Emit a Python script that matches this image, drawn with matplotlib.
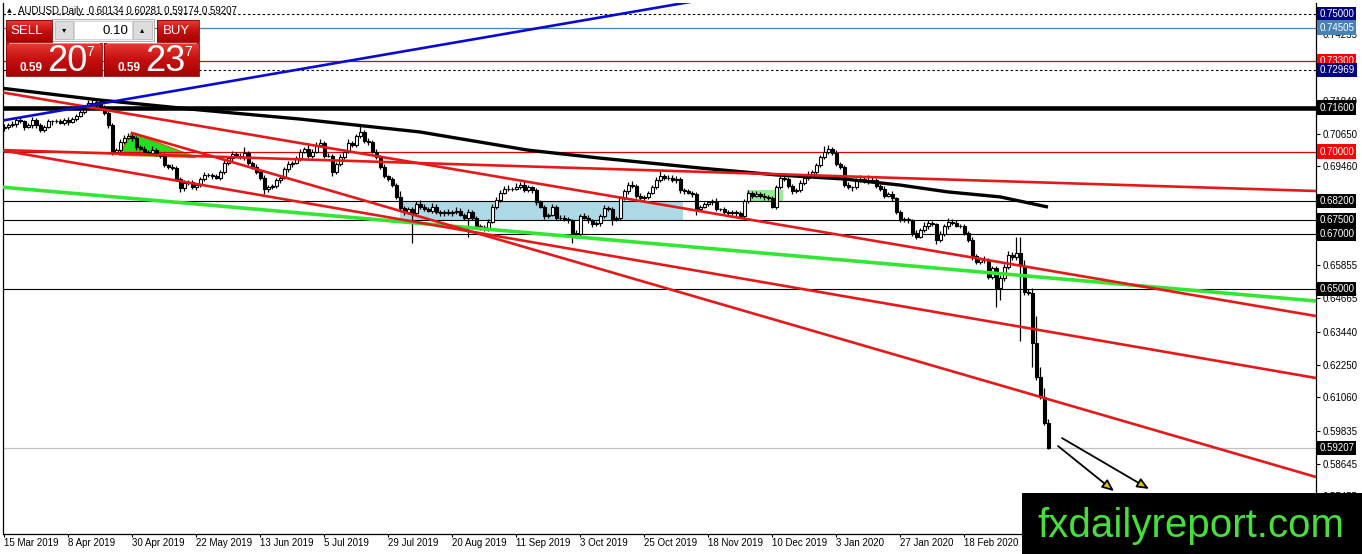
import matplotlib
matplotlib.use("Agg")
import matplotlib.pyplot as plt
from matplotlib.patches import Rectangle, Polygon
from matplotlib.colors import LinearSegmentedColormap
import numpy as np

plt.rcParams['font.family'] = ['Liberation Sans', 'DejaVu Sans']

# AUDUSD daily closes in pips (x 1e-4), 15 Mar 2019 .. 18 Mar 2020
closes = [
    7090, 7095, 7100, 7115, 7110, 7090, 7095, 7115, 7095, 7080,
    7090, 7110, 7110, 7112, 7105, 7115, 7108, 7118, 7130, 7145,
    7160, 7175, 7170, 7180, 7160, 7140, 7095, 7000, 7005, 7035,
    7050, 7055, 7050, 7015, 7010, 7000, 6995, 7005, 6990, 6985,
    6950, 6945, 6940, 6900, 6867, 6885, 6890, 6870, 6880, 6900,
    6915, 6915, 6910, 6905, 6925, 6960, 6975, 6990, 6985, 6980,
    6995, 6960, 6945, 6925, 6905, 6862, 6870, 6875, 6895, 6905,
    6935, 6955, 6960, 6975, 7000, 7010, 6985, 7000, 7025, 7030,
    6985, 6985, 6925, 6955, 6980, 7000, 7030, 7025, 7055, 7070,
    7040, 7035, 7000, 6980, 6945, 6910, 6900, 6880, 6835, 6795,
    6780, 6790, 6775, 6810, 6800, 6790, 6785, 6800, 6780, 6775,
    6780, 6775, 6780, 6785, 6770, 6760, 6780, 6760, 6730, 6725,
    6720, 6745, 6800, 6825, 6850, 6865, 6865, 6865, 6870, 6880,
    6860, 6870, 6860, 6815, 6800, 6765, 6770, 6800, 6760, 6760,
    6755, 6750, 6705, 6700, 6765, 6760, 6750, 6735, 6740, 6765,
    6795, 6790, 6755, 6760, 6830, 6855, 6880, 6875, 6840, 6830,
    6835, 6850, 6870, 6895, 6910, 6905, 6905, 6895, 6900, 6860,
    6855, 6850, 6845, 6790, 6800, 6810, 6815, 6820, 6790, 6790,
    6780, 6775, 6780, 6775, 6765, 6820, 6850, 6840, 6845, 6840,
    6835, 6830, 6800, 6870, 6905, 6900, 6875, 6855, 6860, 6885,
    6905, 6920, 6925, 6950, 6980, 7000, 7010, 6995, 6955, 6945,
    6880, 6870, 6870, 6895, 6900, 6895, 6890, 6895, 6875, 6865,
    6840, 6845, 6830, 6780, 6750, 6755, 6750, 6705, 6690, 6715,
    6730, 6740, 6735, 6680, 6700, 6730, 6745, 6740, 6730, 6730,
    6705, 6680, 6620, 6600, 6610, 6605, 6545, 6575, 6505, 6540,
    6580, 6625, 6615, 6630, 6585, 6490, 6485, 6303, 6180, 6109,
    6013, 5921,
]
first_open = 7085

# upper / lower shadows in pips
wick_up = [
    10, 8, 12, 8, 10, 6, 8, 10, 6, 8,
    8, 10, 6, 8, 6, 8, 10, 6, 8, 10,
    8, 12, 20, 15, 8, 10, 6, 8, 6, 10,
    10, 12, 8, 6, 8, 10, 6, 15, 8, 6,
    8, 6, 8, 6, 8, 10, 6, 8, 6, 8,
    10, 8, 6, 8, 6, 10, 8, 12, 10, 8,
    20, 8, 6, 8, 6, 8, 10, 6, 8, 10,
    8, 10, 6, 8, 10, 8, 20, 8, 10, 15,
    8, 10, 6, 8, 10, 8, 15, 10, 8, 25,
    10, 8, 6, 8, 6, 8, 6, 8, 6, 20,
    8, 10, 8, 10, 15, 8, 10, 12, 8, 6,
    8, 10, 6, 12, 8, 6, 10, 8, 6, 8,
    6, 8, 10, 8, 10, 8, 12, 6, 15, 10,
    12, 8, 6, 8, 10, 6, 8, 10, 6, 8,
    10, 8, 6, 8, 6, 10, 8, 6, 8, 6,
    12, 8, 10, 6, 8, 10, 8, 12, 6, 8,
    6, 8, 10, 12, 20, 8, 10, 8, 10, 8,
    8, 10, 6, 8, 6, 8, 6, 8, 10, 6,
    8, 6, 8, 6, 8, 6, 10, 8, 10, 6,
    8, 6, 10, 8, 12, 15, 8, 6, 8, 10,
    8, 10, 8, 10, 8, 20, 15, 8, 10, 8,
    6, 8, 6, 10, 15, 8, 20, 15, 8, 6,
    8, 6, 10, 6, 8, 6, 8, 6, 10, 8,
    15, 10, 8, 6, 10, 8, 12, 8, 10, 6,
    8, 6, 10, 8, 8, 10, 6, 10, 8, 10,
    10, 15, 8, 60, 60, 20, 10, 20, 98, 36,
    30, 15,
]
wick_dn = [
    10, 8, 6, 10, 8, 12, 6, 8, 10, 8,
    10, 6, 15, 8, 6, 8, 10, 6, 8, 6,
    8, 10, 6, 8, 10, 8, 10, 12, 8, 6,
    8, 6, 10, 8, 6, 10, 8, 6, 8, 10,
    8, 10, 6, 8, 15, 10, 8, 6, 10, 8,
    6, 8, 10, 6, 8, 6, 8, 10, 6, 8,
    10, 8, 10, 6, 8, 15, 10, 8, 6, 8,
    6, 8, 10, 6, 8, 6, 10, 8, 6, 8,
    10, 6, 15, 8, 6, 8, 6, 10, 8, 6,
    8, 10, 6, 8, 10, 8, 6, 10, 8, 10,
    12, 8, 107, 8, 10, 8, 6, 10, 8, 10,
    8, 6, 10, 8, 6, 10, 70, 8, 10, 12,
    10, 8, 6, 10, 8, 6, 8, 10, 6, 8,
    6, 8, 10, 8, 6, 10, 8, 6, 10, 8,
    8, 10, 38, 15, 8, 6, 10, 8, 6, 10,
    8, 6, 22, 8, 10, 6, 8, 6, 10, 8,
    10, 8, 6, 8, 6, 10, 8, 6, 8, 10,
    8, 6, 10, 20, 8, 6, 8, 10, 6, 8,
    6, 8, 6, 10, 8, 6, 8, 10, 6, 8,
    10, 8, 6, 10, 8, 6, 8, 10, 6, 8,
    6, 8, 10, 6, 8, 6, 10, 8, 6, 8,
    10, 8, 15, 8, 6, 10, 8, 6, 8, 10,
    8, 6, 10, 8, 6, 8, 10, 12, 8, 6,
    8, 10, 6, 15, 8, 6, 10, 8, 6, 8,
    10, 8, 15, 10, 8, 12, 10, 10, 69, 45,
    10, 8, 10, 8, 275, 10, 8, 85, 10, 9,
    8, 4,
]

# moving average (bar index, price)
ma_bars = [-1, 24, 49, 74, 104, 131, 149, 174, 193, 210, 224, 236, 249, 261]
ma_vals = [0.7231, 0.7187, 0.7151, 0.7118, 0.7071, 0.7005, 0.6976, 0.6940,
           0.6915, 0.6900, 0.6878, 0.6853, 0.6835, 0.6798]

date_labels = ['15 Mar 2019', '8 Apr 2019', '30 Apr 2019', '22 May 2019', '13 Jun 2019',
               '5 Jul 2019', '29 Jul 2019', '20 Aug 2019', '11 Sep 2019', '3 Oct 2019',
               '25 Oct 2019', '18 Nov 2019', '10 Dec 2019', '3 Jan 2020', '27 Jan 2020',
               '18 Feb 2020']
price_ticks = [0.74255, 0.71840, 0.70650, 0.69460, 0.65855, 0.64665,
               0.63440, 0.62250, 0.61060, 0.59835, 0.58645, 0.57455]

# horizontal levels
dashed_levels = [0.75000, 0.72969]
thin_levels = [0.68200, 0.67500, 0.67000, 0.65000]
red_levels = [0.73300, 0.70000]
blue_level = 0.74505
thick_level = 0.71600
bid = 0.59207

# price labels with background on the right scale
label_prices = [0.75000, 0.74505, 0.73300, 0.72969, 0.71600, 0.70000,
                0.68200, 0.67500, 0.67000, 0.65000, 0.59207]
label_bgs = ['#000080', '#4682b4', '#ff0000', '#000080', 'black', '#ff0000',
             'black', 'black', 'black', 'black', 'black']

# trend lines: ((bar, price), (bar, price))
red_lines = [((-1, 0.72164), (328, 0.64018)),
             ((32, 0.70673), (328, 0.58164)),
             ((-1, 0.70055), (328, 0.61764)),
             ((-1, 0.70055), (328, 0.68564))]
green_line = ((-1, 0.68709), (328, 0.64564))
blue_line = ((-1, 0.71110), (180, 0.75651))
triangle = [(28.75, 0.69873), (32, 0.70673), (48, 0.69790)]
blue_box = (99, 0.67509, 169.75, 0.68175)
green_box = (185.75, 0.68200, 194.75, 0.68600)
arrows = [((263.5, 0.5929), (277.5, 0.5765)),
          ((264.5, 0.5958), (286.25, 0.5773))]

W, H = 1362, 554
fig = plt.figure(figsize=(W / 100, H / 100), dpi=100)
ax = fig.add_axes([3 / W, (H - 534) / H, 1313 / W, 531 / H])

c = np.array(closes) / 1e4
o = np.r_[first_open / 1e4, c[:-1]]
hi = np.maximum(o, c) + np.array(wick_up) / 1e4
lo = np.minimum(o, c) - np.array(wick_dn) / 1e4
idx = np.arange(len(c))

# background objects
x0, p0, x1, p1 = blue_box
ax.add_patch(Rectangle((x0, p0), x1 - x0, p1 - p0, fc='#add8e6', ec='none', zorder=1))
x0, p0, x1, p1 = green_box
ax.add_patch(Rectangle((x0, p0), x1 - x0, p1 - p0, fc='#90ee90', ec='none', zorder=1))
ax.add_patch(Polygon(triangle, closed=True, fc='#22e022', ec='#9a8a10', lw=1.2, zorder=1.5))

for p in dashed_levels:
    ax.axhline(p, color='black', lw=0.8, ls=(0, (2.2, 2.2)), zorder=2)
for p in thin_levels:
    ax.axhline(p, color='black', lw=0.8, zorder=2)
for p in red_levels:
    ax.axhline(p, color='#dd0000', lw=0.9, zorder=2)
ax.axhline(blue_level, color='#4682b4', lw=0.9, zorder=2)
ax.axhline(bid, color='#c0c0c0', lw=0.9, zorder=2)

# candles
ax.vlines(idx, lo, hi, color='black', lw=0.9, zorder=3)
up = c >= o
ax.bar(idx[up], (c - o)[up], bottom=o[up], width=0.75, color='white',
       edgecolor='black', lw=0.8, zorder=3.2)
ax.bar(idx[~up], (o - c)[~up], bottom=c[~up], width=0.75, color='black',
       edgecolor='black', lw=0.8, zorder=3.2)

# lines over the candles
ax.axhline(thick_level, color='black', lw=3.3, zorder=4)
ax.plot(ma_bars, ma_vals, color='black', lw=2.4, zorder=4, solid_capstyle='butt')
for (a, pa), (b, pb) in red_lines:
    ax.plot([a, b], [pa, pb], color='#e41a1a', lw=1.9, zorder=4.2)
(a, pa), (b, pb) = green_line
ax.plot([a, b], [pa, pb], color='#33e633', lw=2.6, zorder=4.1)
(a, pa), (b, pb) = blue_line
ax.plot([a, b], [pa, pb], color='#0a0ad0', lw=1.9, zorder=4.3)

for (a, pa), (b, pb) in arrows:
    ax.annotate('', xy=(b, pb), xytext=(a, pa),
                arrowprops=dict(arrowstyle='-|>,head_length=0.7,head_width=0.3',
                                fc='#d8c800', ec='black', lw=1.3, shrinkA=0, shrinkB=0),
                zorder=5)

ax.set_xlim(-0.25, 328)
ax.set_ylim(0.56091, 0.75400)

ax.set_xticks(np.arange(len(date_labels)) * 16)
ax.set_xticklabels(date_labels, ha='left')
ax.tick_params(axis='x', length=2, labelsize=7, pad=1)
ax.yaxis.tick_right()
ax.set_yticks(price_ticks)
ax.set_yticklabels([f'{p:.5f}' for p in price_ticks])
ax.tick_params(axis='y', length=3, labelsize=7, pad=2)
ax.spines['top'].set_visible(False)
for s in ('left', 'right', 'bottom'):
    ax.spines[s].set_linewidth(0.9)

for p, bg in zip(label_prices, label_bgs):
    ax.text(1.0025, p, f'{p:.5f}', transform=ax.get_yaxis_transform(), fontsize=7,
            color='white', va='center', ha='left', zorder=10, clip_on=False,
            bbox=dict(boxstyle='square,pad=0.22', fc=bg, ec='none'))

# overlay in pixel coordinates: trade panel, title, watermark
ov = fig.add_axes([0, 0, 1, 1])
ov.set_zorder(5)
ov.patch.set_alpha(0)
ov.axis('off')

red_cmap = LinearSegmentedColormap.from_list('red', ['#e83a32', '#c41010', '#a80000'])
grad = np.linspace(0, 1, 64).reshape(-1, 1)


def red_box(x0, y0, x1, y1):
    ov.imshow(grad, extent=(x0, x1, y1, y0), cmap=red_cmap, aspect='auto', zorder=2)
    ov.add_patch(Rectangle((x0, y0), x1 - x0, y1 - y0, fc='none', ec='#8a0000', lw=0.6, zorder=3))


red_box(6, 20, 52, 42)
red_box(157, 20, 199, 42)
red_box(6, 43, 102, 76)
red_box(104, 43, 199, 76)
ov.plot([9, 99], [42.6, 42.6], color='#f29090', lw=0.7, zorder=4)
ov.plot([107, 196], [42.6, 42.6], color='#f29090', lw=0.7, zorder=4)

ov.add_patch(Rectangle((52, 19), 102, 22, fc='#f0f0f0', ec='#a0a0a0', lw=0.6, zorder=2))
ov.add_patch(Rectangle((55, 21), 18, 18, fc='#dcdcdc', ec='#b0b0b0', lw=0.5, zorder=3))
ov.add_patch(Rectangle((74, 21), 58, 18, fc='white', ec='#c8c8c8', lw=0.5, zorder=3))
ov.add_patch(Rectangle((133, 21), 19, 18, fc='#dcdcdc', ec='#b0b0b0', lw=0.5, zorder=3))
ov.text(64, 30, '\u25be', fontsize=6, family='DejaVu Sans', ha='center', va='center', zorder=4)
ov.text(142.5, 30, '\u25b4', fontsize=6, family='DejaVu Sans', ha='center', va='center', zorder=4)
ov.text(128, 30.5, '0.10', fontsize=9.5, ha='right', va='center', zorder=4)
ov.text(10, 31, 'SELL', fontsize=9.5, color='white', va='center', zorder=4)
ov.text(163, 31, 'BUY', fontsize=9.5, color='white', va='center', zorder=4)

for bx, big in ((0, '20'), (98, '23')):
    ov.text(20 + bx, 71, '0.59', fontsize=8.5, weight='bold', color='white', va='baseline', zorder=4)
    ov.text(47 + bx, 71, big, fontsize=26, color='white', va='baseline', zorder=4)
    ov.text(86 + bx, 45, '7', fontsize=10, color='white', va='top', zorder=4)

ov.text(7, 11, '\u25b2', fontsize=4.5, family='DejaVu Sans', va='center', zorder=4)
ov.text(18, 11, 'AUDUSD,Daily  0.60134 0.60281 0.59174 0.59207', fontsize=7,
        va='center', zorder=4)

ov.add_patch(Rectangle((1022, 493), W - 1022, H - 493, fc='black', ec='none', zorder=6))
ov.text(1037, 537, 'fxdailyreport.com', fontsize=29, color='#45e03a',
        va='baseline', zorder=7)

ov.set_xlim(0, W)
ov.set_ylim(H, 0)

fig.savefig('out.png', dpi=100)
